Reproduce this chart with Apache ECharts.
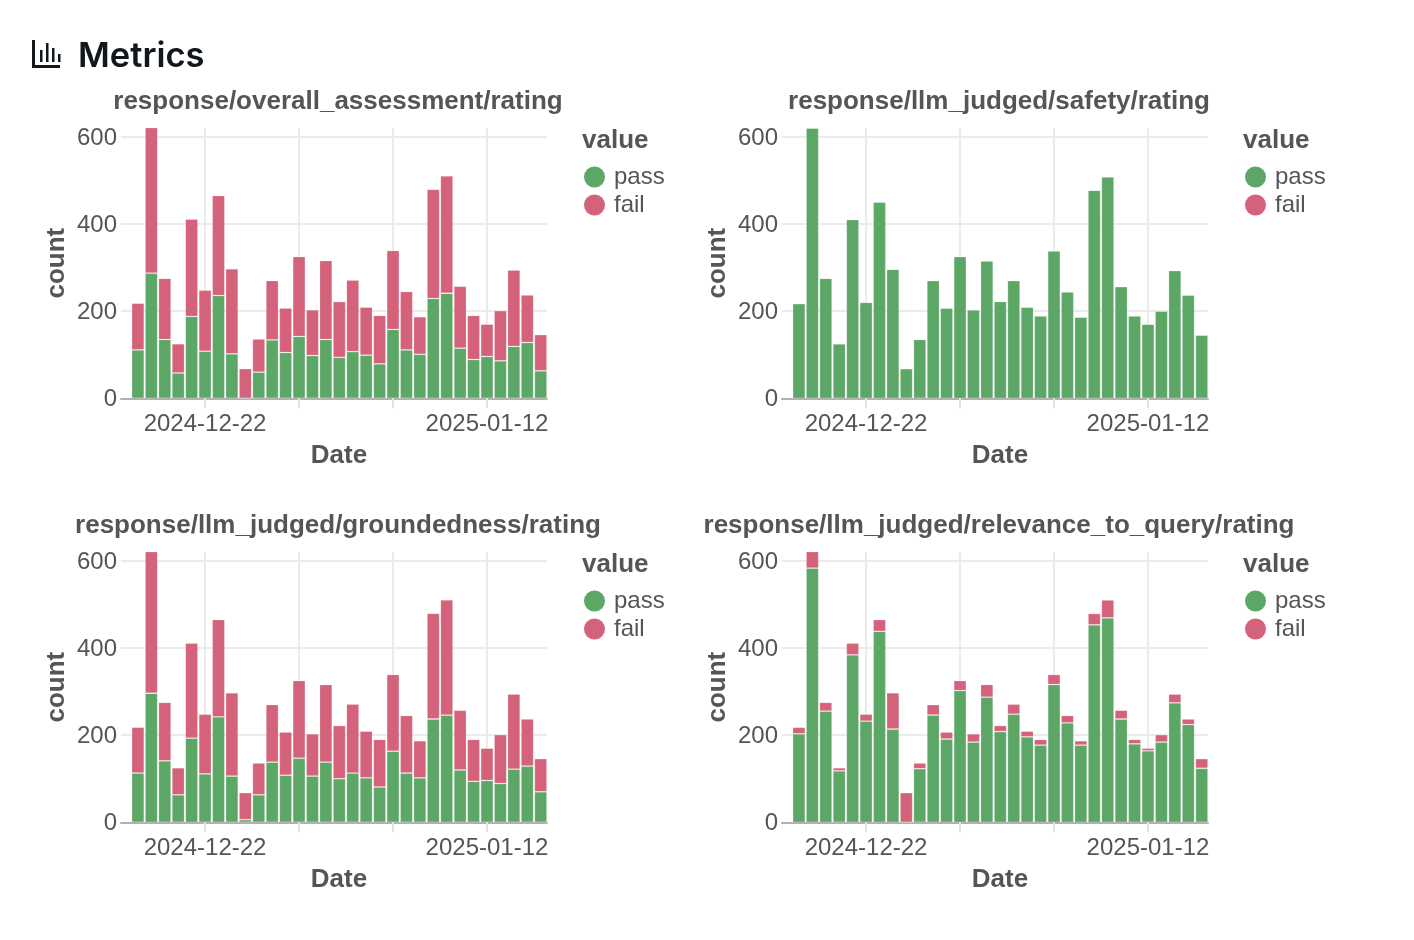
<!DOCTYPE html>
<html>
<head>
<meta charset="utf-8">
<style>html,body{margin:0;padding:0;background:#fff}#myChart{width:1414px;height:940px}</style>
<script src="https://cdn.jsdelivr.net/npm/echarts@6/dist/echarts.min.js"></script>
</head>
<body>
<div id="myChart"></div>
<script>
var dates = ['2024-12-17','2024-12-18','2024-12-19','2024-12-20','2024-12-21','2024-12-22','2024-12-23','2024-12-24',
    '2024-12-25','2024-12-26','2024-12-27','2024-12-28','2024-12-29','2024-12-30','2024-12-31','2025-01-01',
    '2025-01-02','2025-01-03','2025-01-04','2025-01-05','2025-01-06','2025-01-07','2025-01-08','2025-01-09',
    '2025-01-10','2025-01-11','2025-01-12','2025-01-13','2025-01-14','2025-01-15','2025-01-16'];
var tickDates = ['2024-12-22','2024-12-29','2025-01-05','2025-01-12'];
var labelDates = ['2024-12-22','2025-01-12'];
var yTicks = [0, 200, 400, 600];

var overallPass = [111,287,135,58,188,108,236,102,0,60,134,105,142,98,135,94,107,99,79,158,111,101,229,241,115,89,96,86,119,128,63];
var overallFail = [107,335,140,67,223,140,229,195,68,76,136,102,183,105,181,128,164,110,111,181,134,86,250,269,142,101,74,115,175,109,83];
var safetyPass = [217,620,275,125,410,220,450,296,68,135,270,207,325,203,315,222,270,209,189,338,244,186,477,508,256,189,170,200,293,237,145];
var safetyFail = [0,0,0,0,0,0,0,0,0,0,0,0,0,0,0,0,0,0,0,0,0,0,0,0,0,0,0,0,0,0,0];
var groundPass = [113,296,141,63,193,111,242,106,6,63,138,108,147,106,138,100,113,102,81,163,113,102,237,246,120,94,96,89,122,129,70];
var groundFail = [105,326,134,62,218,137,223,191,62,73,132,99,178,97,178,122,158,107,109,176,132,85,242,264,137,96,74,112,172,108,76];
var relevancePass = [203,583,255,118,384,232,438,214,0,123,246,191,302,184,287,208,248,196,177,316,228,177,453,469,237,180,164,184,274,224,124];
var relevanceFail = [15,39,20,7,27,16,27,83,68,13,24,16,23,19,29,14,23,13,13,23,17,10,26,41,20,10,6,17,20,13,22];

var panels = [
    {title: 'response/overall_assessment/rating', pass: overallPass, fail: overallFail, dx: 0, dy: 0},
    {title: 'response/llm_judged/safety/rating', pass: safetyPass, fail: safetyFail, dx: 661, dy: 0},
    {title: 'response/llm_judged/groundedness/rating', pass: groundPass, fail: groundFail, dx: 0, dy: 424},
    {title: 'response/llm_judged/relevance_to_query/rating', pass: relevancePass, fail: relevanceFail, dx: 661, dy: 424}
];

var GREEN = '#5ca766', RED = '#d4627a', TEXT = '#555555', INK = '#11171c', FONT = '"Liberation Sans", Arial, sans-serif';

var myChart = echarts.init(document.getElementById('myChart'));
var option = {
    animation: false,
    textStyle: {fontFamily: FONT},
    title: [{
        text: 'Metrics', left: 73, top: 34,
        textStyle: {fontFamily: 'Inter', fontWeight: 600, fontSize: 34.5, color: INK}
    }],
    graphic: [
        {type: 'rect', shape: {x: 32, y: 40, width: 3, height: 28}, style: {fill: INK}},
        {type: 'rect', shape: {x: 32, y: 65, width: 28, height: 3}, style: {fill: INK}},
        {type: 'rect', shape: {x: 40, y: 50, width: 2.5, height: 12}, style: {fill: INK}},
        {type: 'rect', shape: {x: 46, y: 43, width: 2.5, height: 19}, style: {fill: INK}},
        {type: 'rect', shape: {x: 52, y: 48, width: 2.5, height: 14}, style: {fill: INK}},
        {type: 'rect', shape: {x: 58, y: 54, width: 2.5, height: 8}, style: {fill: INK}}
    ],
    grid: [], xAxis: [], yAxis: [], legend: [], series: []
};

panels.forEach(function (p, i) {
    option.title.push({
        text: p.title, left: 333 + p.dx, top: 84 + p.dy, textAlign: 'center',
        textStyle: {fontFamily: FONT, fontWeight: 'bold', fontSize: 26, color: TEXT}
    });
    option.title.push({
        text: 'value', left: 577 + p.dx, top: 123 + p.dy,
        textStyle: {fontFamily: FONT, fontWeight: 'bold', fontSize: 26, color: TEXT}
    });
    option.grid.push({left: 121 + p.dx, top: 128 + p.dy, width: 426, height: 270.3});
    option.xAxis.push({
        type: 'time', gridIndex: i,
        // ECharts pads a bar axis by about half a day on each side, so these sit inside the wanted range
        min: '2024-12-16 05:00:00', max: '2025-01-16 00:00:00',
        name: 'Date', nameLocation: 'middle', nameGap: 45,
        nameTextStyle: {fontFamily: FONT, fontWeight: 'bold', fontSize: 26, color: TEXT, padding: [0, 0, 0, 10]},
        axisLine: {lineStyle: {color: '#b0b0b0', width: 2}},
        axisTick: {customValues: tickDates, length: 10, lineStyle: {color: '#e2e2e2', width: 2}},
        axisLabel: {
            customValues: labelDates, formatter: '{yyyy}-{MM}-{dd}', margin: 14, hideOverlap: false,
            fontFamily: FONT, fontSize: 24, color: TEXT
        },
        splitLine: {show: true, lineStyle: {color: '#ebebeb', width: 2}}
    });
    option.yAxis.push({
        type: 'value', gridIndex: i, min: 0, max: 620,
        name: 'count', nameLocation: 'middle', nameGap: 51,
        nameTextStyle: {fontFamily: FONT, fontWeight: 'bold', fontSize: 26, color: TEXT},
        axisLine: {show: false},
        axisTick: {show: false, customValues: yTicks},
        axisLabel: {
            customValues: yTicks, margin: 4, formatter: '{v|{value}}',
            rich: {v: {padding: [3, 0, 0, 0], fontFamily: FONT, fontSize: 24, color: TEXT}}
        },
        splitLine: {show: true, lineStyle: {color: '#ebebeb', width: 2}}
    });
    option.legend.push({
        left: 584 + p.dx, top: 165 + p.dy, orient: 'vertical', padding: 0,
        data: ['pass', 'fail'], icon: 'circle', itemWidth: 21, itemHeight: 21, itemGap: 4,
        selectedMode: false, itemStyle: {borderWidth: 0},
        textStyle: {fontFamily: FONT, fontSize: 24, color: TEXT, padding: [0, 0, 0, 4]}
    });
    ['pass', 'fail'].forEach(function (name) {
        option.series.push({
            name: name, type: 'bar', stack: 'p' + i, xAxisIndex: i, yAxisIndex: i, barWidth: 12.6,
            itemStyle: {color: name === 'pass' ? GREEN : RED, borderColor: 'rgba(255,255,255,0.25)', borderWidth: 0.8},
            data: p[name].map(function (v, k) { return [dates[k], v]; })
        });
    });
});

myChart.setOption(option);
</script>
</body>
</html>
